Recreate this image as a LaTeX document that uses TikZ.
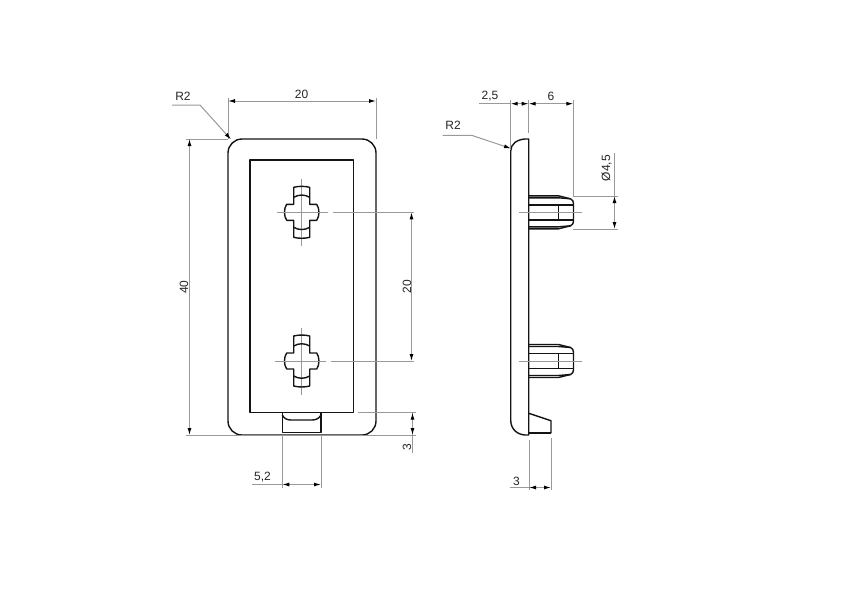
\documentclass[tikz,border=0pt]{standalone}
\usepackage{fontspec}
\setmainfont{Liberation Sans}
\usetikzlibrary{arrows.meta}
\definecolor{dimgray}{gray}{0.6}
\definecolor{inkc}{gray}{0.08}
\tikzset{
  obj/.style={draw=inkc,line width=1.4pt,line join=round},
  thick obj/.style={draw=inkc,line width=2pt},
  thin/.style={draw=dimgray,line width=1pt},
  dimline/.style={draw=dimgray,line width=1pt,{Latex[length=7pt,width=4pt,black]}-{Latex[length=7pt,width=4pt,black]}},
  leader/.style={draw=dimgray,line width=1pt,-{Latex[length=7pt,width=4pt,black]}},
  lab/.style={font=\fontsize{12}{12}\selectfont,text=black!85,inner sep=0pt},
}
\newcommand{\crossmark}[2]{%
  \begin{scope}[shift={(#1,#2)}]
    \draw[thin] (0,-33.5) -- (0,33.5);
    \draw[obj] (-8,-8) -- (-8,-25) .. controls (-3,-26.3) and (3,-26.3) .. (8,-25) -- (8,-8)
      -- (15,-8) .. controls (18,-4) and (18,4) .. (15,8) -- (8,8) -- (8,25)
      .. controls (3,26.3) and (-3,26.3) .. (-8,25) -- (-8,8)
      -- (-15,8) .. controls (-18,4) and (-18,-4) .. (-15,-8) -- cycle;
    \draw[obj] (-8,-15) .. controls (-3,-18) and (3,-18) .. (8,-15);
    \draw[obj] (-8,15) .. controls (-3,18) and (3,18) .. (8,15);
  \end{scope}}
\newcommand{\pinmark}[1]{%
  \begin{scope}[shift={(529,#1)}]
    \draw[obj] (0,-16.5) -- (29.5,-16.5) -- (41.5,-13.5) .. controls (43.5,-12.5) and (44.5,-11) .. (44.5,-9)
       -- (44.5,9) .. controls (44.5,11) and (43.5,12.5) .. (41.5,13.5) -- (29.5,16.5) -- (0,16.5);
    \draw[obj] (0,-14.5) -- (29.5,-14.5) -- (41.5,-13.5);
    \draw[obj] (0,14.5) -- (29.5,14.5) -- (41.5,13.5);
    \draw[obj] (0,-7.5) -- (44.5,-7.5);
    \draw[obj] (0,7.5) -- (44.5,7.5);
    \draw[obj] (29.5,-7.5) -- (29.5,7.5);
  \end{scope}}
\begin{document}
\begin{tikzpicture}[x=1pt,y=-1pt]
\useasboundingbox (0,0) rectangle (850,600);
\fill[white] (0,0) rectangle (850,600);
% ---- front view
\draw[obj,rounded corners=14pt] (228,139) -- (376,139) -- (376,435) -- (228,435) -- cycle;
\draw[obj] (250,160) rectangle (353.7,412.7);
\draw[obj] (282.3,412.7) -- (282.3,432.7) -- (321,432.7) -- (321,412.7);
\draw[obj] (282.3,415) .. controls (284,418.5) and (287,420) .. (291,420) -- (312,420) .. controls (316,420) and (319,418.5) .. (321,415);
\crossmark{301.7}{212.3}
\crossmark{301.7}{361}
% centre-line extensions
\coordinate (a1) at (333,212.3); \coordinate (a2) at (414,212.3);
\coordinate (b1) at (331,361);   \coordinate (b2) at (414,361);
\draw[thin] (277,212.3) -- (328,212.3) (a1) -- (a2);
\draw[thin] (275,361) -- (326,361) (b1) -- (b2);
% dim 20 top
\coordinate (t1) at (228,101); \coordinate (t2) at (376,101);
\draw[thin] (228,98) -- (228,139) (376,98) -- (376,139);
\draw[dimline] (t1) -- (t2);
\node[lab] (d20t) at (301.5,94) {20};
% dim 40
\coordinate (l1) at (189.5,139); \coordinate (l2) at (189.5,435);
\draw[thin] (186,139) -- (228,139) (186,435) -- (416,435);
\draw[dimline] (l1) -- (l2);
\node[lab,rotate=90] (d40) at (184,287) {40};
% R2 left
\coordinate (r1) at (172,105); \coordinate (r2) at (200,105); \coordinate (r3) at (231,139.5);
\draw[leader] (r1) -- (r2) -- (r3);
\node[lab] (rl) at (183,96) {R2};
% dim 20 right
\coordinate (m1) at (411.5,212.3); \coordinate (m2) at (411.5,361);
\draw[dimline] (m1) -- (m2);
\node[lab,rotate=90] (d20r) at (407,286.5) {20};
% dim 3
\coordinate (n1) at (412.5,412.7); \coordinate (n2) at (412.5,435);
\draw[thin] (358,412.7) -- (416,412.7) (412.5,412.7) -- (412.5,453);
\draw[dimline] (n1) -- (n2);
\node[lab,rotate=90] (d3r) at (407,447) {3};
% dim 5,2
\coordinate (p1) at (282.3,484.5); \coordinate (p2) at (321,484.5);
\draw[thin] (282.3,435) -- (282.3,487.5) (321,435) -- (321,487.5) (252,484.5) -- (p1);
\draw[dimline] (p1) -- (p2);
\node[lab] (d52) at (262.5,477) {5,2};
% ---- side view
\draw[obj] (528.7,139) -- (525,139) .. controls (517,139.5) and (510.7,144) .. (510.7,151)
  -- (510.7,420) .. controls (510.7,429) and (517,434.5) .. (525,435) -- (528.7,435) -- cycle;
\draw[obj] (528.7,413.3) -- (551,420.7) -- (551,433) -- (528.7,433);
\draw[thick obj] (528.7,433) -- (551,433);
\pinmark{212.3}
\pinmark{361}
\draw[thin] (519,212.3) -- (582,212.3) (519,361) -- (582,361);
% dims top right
\coordinate (s1) at (510.7,103.7); \coordinate (s2) at (528.7,103.7); \coordinate (s3) at (573.3,103.7);
\draw[thin] (510.7,100) -- (510.7,150) (528.7,100) -- (528.7,133) (573.3,100) -- (573.3,196);
\draw[thin] (479,103.7) -- (s1);
\draw[dimline] (s1) -- (s2);
\draw[dimline] (s2) -- (s3);
\node[lab] (d25) at (490,96) {2,5};
\node[lab] (d6) at (551,96) {6};
% R2 right
\coordinate (q1) at (442.5,135.3); \coordinate (q2) at (471.7,135.3); \coordinate (q3) at (511,148.5);
\draw[leader] (q1) -- (q2) -- (q3);
\node[lab] (rr) at (453,125.5) {R2};
% dia 4,5
\coordinate (u1) at (614.5,196); \coordinate (u2) at (614.5,229);
\draw[thin] (573.3,196) -- (618,196) (573.3,229) -- (618,229) (614.5,153) -- (u1);
\draw[dimline] (u1) -- (u2);
\node[lab,rotate=90] (d45) at (606.5,168) {Ø4,5};
% dim 3 bottom
\coordinate (v1) at (529,487.5); \coordinate (v2) at (551,487.5);
\draw[thin] (529,440) -- (529,490) (551,437.5) -- (551,490) (510,487.5) -- (v1);
\draw[dimline] (v1) -- (v2);
\node[lab] (d3b) at (516.5,481) {3};
\end{tikzpicture}
\end{document}
